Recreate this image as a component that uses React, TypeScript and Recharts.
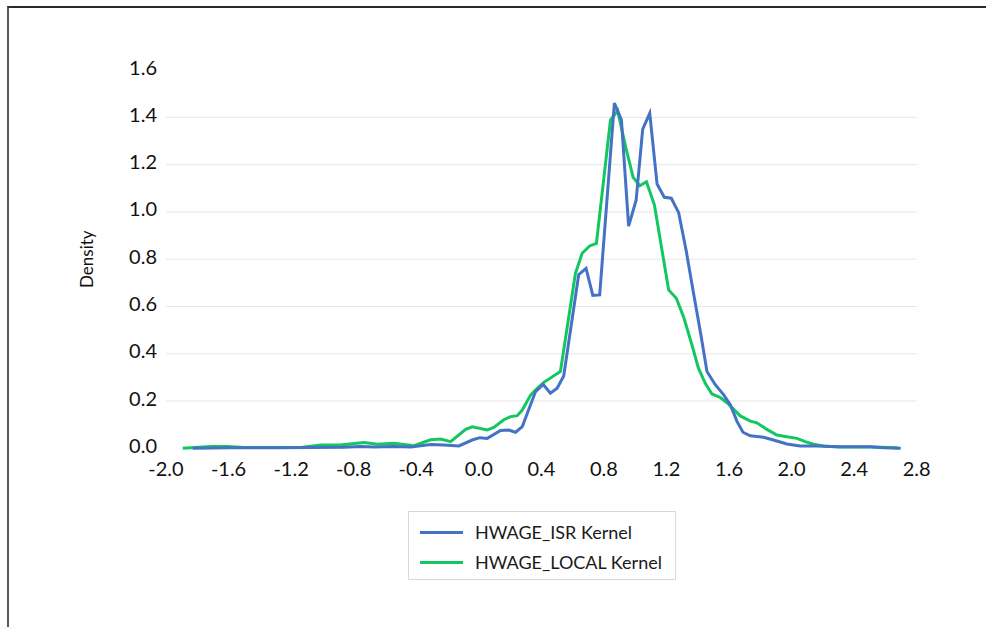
import { LineChart, Line, XAxis, YAxis, CartesianGrid, Legend } from 'recharts';

// kernel density, x = wage value, y = density
const isrX = [
  -1.829, -1.585, -1.266, -1.074, -0.863, -0.755, -0.672, -0.544, -0.435, -0.308,
  -0.223, -0.127, -0.042, 0.007, 0.054, 0.139, 0.192, 0.235, 0.278, 0.363,
  0.412, 0.458, 0.501, 0.543, 0.639, 0.686, 0.729, 0.773, 0.867, 0.912,
  0.958, 1.006, 1.048, 1.093, 1.14, 1.186, 1.231, 1.278, 1.325, 1.372,
  1.42, 1.459, 1.512, 1.565, 1.608, 1.651, 1.689, 1.736, 1.821, 1.884,
  1.97, 2.055, 2.162, 2.289, 2.502, 2.587, 2.698,
];
const isrY = [
  0.0, 0.002, 0.002, 0.003, 0.004, 0.008, 0.005, 0.008, 0.005, 0.016,
  0.014, 0.01, 0.035, 0.045, 0.042, 0.075, 0.077, 0.068, 0.092, 0.24,
  0.27, 0.233, 0.254, 0.306, 0.735, 0.761, 0.647, 0.649, 1.46, 1.389,
  0.94, 1.05, 1.35, 1.417, 1.118, 1.062, 1.058, 0.997, 0.84, 0.66,
  0.48, 0.325, 0.269, 0.227, 0.184, 0.114, 0.068, 0.053, 0.047, 0.035,
  0.018, 0.01, 0.01, 0.007, 0.007, 0.002, 0.0,
];

const localX = [
  -1.893, -1.713, -1.606, -1.5, -1.138, -1.01, -0.883, -0.734, -0.648, -0.542,
  -0.414, -0.308, -0.244, -0.18, -0.084, -0.042, 0.054, 0.096, 0.16, 0.203,
  0.246, 0.278, 0.331, 0.374, 0.416, 0.522, 0.618, 0.661, 0.709, 0.752,
  0.842, 0.888, 0.941, 0.987, 1.029, 1.072, 1.123, 1.214, 1.263, 1.31,
  1.363, 1.404, 1.448, 1.491, 1.544, 1.597, 1.672, 1.736, 1.778, 1.842,
  1.906, 1.97, 2.034, 2.087, 2.14, 2.204, 2.31, 2.502, 2.63, 2.681,
];
const localY = [
  0.0, 0.008, 0.008, 0.003, 0.003, 0.014, 0.014, 0.024, 0.017, 0.021,
  0.011, 0.036, 0.039, 0.028, 0.08, 0.091, 0.078, 0.088, 0.121, 0.134,
  0.138, 0.162, 0.225, 0.254, 0.279, 0.325, 0.74, 0.825, 0.856, 0.867,
  1.389, 1.428, 1.27, 1.146, 1.111, 1.128, 1.029, 0.67, 0.635, 0.555,
  0.437, 0.34, 0.275, 0.23, 0.215, 0.187, 0.137, 0.115, 0.108, 0.08,
  0.056, 0.049, 0.042, 0.028, 0.017, 0.01, 0.006, 0.006, 0.003, 0.001,
];

const xTicks = [-2.0, -1.6, -1.2, -0.8, -0.4, 0.0, 0.4, 0.8, 1.2, 1.6, 2.0, 2.4, 2.8];
const yTicks = [0.0, 0.2, 0.4, 0.6, 0.8, 1.0, 1.2, 1.4, 1.6];
const gridValues = [0.2, 0.4, 0.6, 0.8, 1.0, 1.2, 1.4];

const seriesNames = ['HWAGE_ISR Kernel', 'HWAGE_LOCAL Kernel'];
const seriesColors = ['#4472C4', '#12C760'];

const isrData = isrX.map((x, i) => ({ x, y: isrY[i] }));
const localData = localX.map((x, i) => ({ x, y: localY[i] }));

const FONT = 'Lato, "Noto Sans", sans-serif';

const XTick = (props: any) => (
  <text x={props.x} y={props.y} dy={27.5} textAnchor="middle" fontFamily={FONT} fontSize={20} fill="#111">
    {Number(props.payload.value).toFixed(1)}
  </text>
);

const YTick = (props: any) => (
  <text x={props.x} y={props.y} dy={4.5} textAnchor="end" fontFamily={FONT} fontSize={20} fill="#111">
    {Number(props.payload.value).toFixed(1)}
  </text>
);

const DensityLabel = (props: any) => {
  const vb = props.viewBox;
  const cx = vb.x - 13;
  const cy = vb.y + vb.height / 2;
  return (
    <text
      transform={`translate(${cx}, ${cy}) rotate(-90)`}
      textAnchor="middle"
      fontFamily={FONT}
      fontSize={17}
      fill="#111"
    >
      Density
    </text>
  );
};

const LegendBox = () => (
  <div
    style={{
      width: 268,
      height: 69,
      boxSizing: 'border-box',
      border: '1px solid #D9D9D9',
      background: '#fff',
      position: 'relative',
      fontFamily: FONT,
      fontSize: 18,
      color: '#1a1a1a',
    }}
  >
    {seriesNames.map((name, i) => (
      <div
        key={name}
        style={{ position: 'absolute', left: 11, top: 8 + i * 30, height: 24, display: 'flex', alignItems: 'center' }}
      >
        <div style={{ width: 43, height: 3, background: seriesColors[i], marginRight: 12 }} />
        <span style={{ whiteSpace: 'nowrap' }}>{name}</span>
      </div>
    ))}
  </div>
);

export default function App() {
  return (
    <div style={{ position: 'absolute', left: 0, top: 0, width: 986, height: 627, background: '#fff' }}>
      <div
        style={{
          position: 'absolute',
          left: 7,
          top: 6,
          width: 979,
          height: 621,
          boxSizing: 'border-box',
          borderTop: '2px solid #2a2a2a',
          borderLeft: '2px solid #5a5a5a',
        }}
      />
      <div style={{ position: 'absolute', left: 0, top: 0 }}>
        <LineChart width={986} height={627} margin={{ top: 70.1, right: 69.3, bottom: 138.7, left: 106 }}>
          <CartesianGrid vertical={false} stroke="#E6E6E6" strokeWidth={1} horizontalValues={gridValues} />
          <XAxis
            type="number"
            dataKey="x"
            domain={[-2, 2.8]}
            ticks={xTicks}
            interval={0}
            axisLine={false}
            tickLine={false}
            tickSize={0}
            tickMargin={0}
            height={40}
            tick={<XTick />}
            allowDuplicatedCategory={false}
          />
          <YAxis
            type="number"
            domain={[0, 1.6]}
            ticks={yTicks}
            interval={0}
            axisLine={false}
            tickLine={false}
            tickSize={0}
            tickMargin={9}
            width={60}
            tick={<YTick />}
            label={<DensityLabel />}
          />
          <Legend
            layout="vertical"
            align="center"
            verticalAlign="middle"
            content={<LegendBox />}
            wrapperStyle={{ position: 'absolute', left: 408, top: 511, width: 268, height: 69 }}
          />
          <Line
            data={localData}
            dataKey="y"
            name={seriesNames[1]}
            type="linear"
            stroke={seriesColors[1]}
            strokeWidth={3}
            dot={false}
            isAnimationActive={false}
          />
          <Line
            data={isrData}
            dataKey="y"
            name={seriesNames[0]}
            type="linear"
            stroke={seriesColors[0]}
            strokeWidth={3}
            dot={false}
            isAnimationActive={false}
          />
        </LineChart>
      </div>
    </div>
  );
}
